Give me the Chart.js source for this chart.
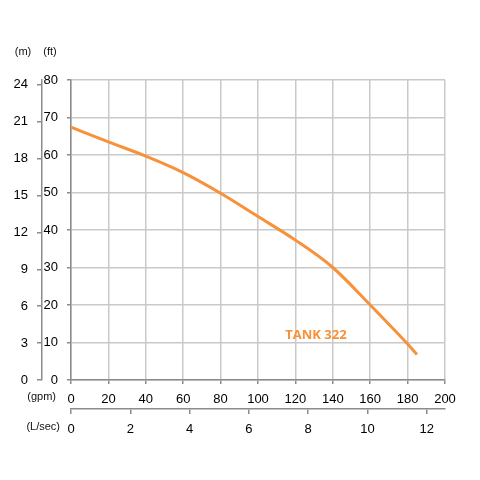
<!DOCTYPE html>
<html>
<head>
<meta charset="utf-8">
<script src="https://cdn.jsdelivr.net/npm/chart.js@4/dist/chart.umd.min.js"></script>
<style>
  html, body { margin: 0; padding: 0; background: #fff; }
</style>
</head>
<body>
<canvas id="pumpChart" width="480" height="480"></canvas>
<script>
// flow (gpm) and head (ft)
const flowGpm = [0, 20, 40, 60, 80, 100, 120, 140, 160, 180, 185]
const headFt = [67.4, 63.5, 59.7, 55.3, 49.8, 43.6, 37.3, 30.0, 20.0, 9.6, 6.8]
const seriesName = 'TANK 322'

// secondary axis tick labels
const meterTicks = [0, 3, 6, 9, 12, 15, 18, 21, 24]
const litreTicks = [0, 2, 4, 6, 8, 10, 12]

const gpmMax = 200
const ftMax = 80
const gpmPerLs = 15.85
const ftPerM = 3.2808

const orange = '#f7913a'
const gridGray = '#c9c9c9'
const axisGray = '#8c8c8c'
const tickFont = { family: 'Liberation Sans', size: 13 }

// unit captions + curve name
const extraText = {
  id: 'extraText',
  afterDraw(c) {
    const ctx = c.ctx
    const x = c.scales.x, y = c.scales.y, m = c.scales.m, ls = c.scales.ls
    ctx.save()
    ctx.fillStyle = '#111'
    ctx.font = '11px Liberation Sans'
    ctx.textBaseline = 'middle'
    ctx.textAlign = 'center'
    ctx.fillText('(m)', m.left + 9, 52)
    ctx.fillText('(ft)', y.left + 8, 52)
    ctx.textAlign = 'right'
    ctx.fillText('(gpm)', m.right + 14, x.top + 17)
    ctx.fillText('(L/sec)', m.right + 18, ls.top + 18)
    ctx.fillStyle = orange
    ctx.font = 'bold 13px "Open Sans"'
    ctx.textAlign = 'center'
    ctx.fillText(seriesName, x.getPixelForValue(131), y.getPixelForValue(12))
    ctx.restore()
  }
}

let pumpChart = new Chart(document.getElementById('pumpChart').getContext('2d'), {
  type: 'line',
  data: {
    datasets: [{
      label: seriesName,
      data: flowGpm.map((g, i) => ({ x: g, y: headFt[i] })),
      borderColor: orange,
      borderWidth: 3,
      pointRadius: 0,
      cubicInterpolationMode: 'monotone',
      fill: false
    }]
  },
  options: {
    responsive: false,
    animation: false,
    devicePixelRatio: 1,
    layout: { padding: { left: 14, right: 35, top: 80, bottom: 41 } },
    plugins: { legend: { display: false }, tooltip: { enabled: false } },
    scales: {
      x: {
        type: 'linear', position: 'bottom', min: 0, max: gpmMax,
        afterFit(s) { s.height = 29 },
        ticks: { stepSize: 20, color: '#000', font: tickFont, padding: 8, maxRotation: 0 },
        grid: { color: gridGray, lineWidth: 1.5, tickLength: 4, tickColor: axisGray },
        border: { color: axisGray, width: 1.5 }
      },
      ls: {
        type: 'linear', position: 'bottom', min: 0, max: gpmMax / gpmPerLs,
        afterBuildTicks(s) { s.ticks = litreTicks.map(v => ({ value: v })) },
        afterFit(s) { s.height = 30 },
        ticks: { color: '#000', font: tickFont, padding: 8, maxRotation: 0, autoSkip: false },
        grid: { drawOnChartArea: false, tickLength: 5, tickColor: axisGray, lineWidth: 1.5 },
        border: { color: axisGray, width: 1.5 }
      },
      y: {
        type: 'linear', position: 'left', min: 0, max: ftMax,
        afterFit(s) { s.width = 29 },
        ticks: { stepSize: 10, color: '#000', font: tickFont, padding: 9 },
        grid: { color: gridGray, lineWidth: 1.5, tickLength: 4, tickColor: axisGray },
        border: { color: axisGray, width: 1.5 }
      },
      m: {
        type: 'linear', position: 'left', min: 0, max: ftMax / ftPerM,
        afterBuildTicks(s) { s.ticks = meterTicks.map(v => ({ value: v })) },
        afterFit(s) { s.width = 28 },
        ticks: { color: '#000', font: tickFont, padding: 9, autoSkip: false },
        grid: { drawOnChartArea: false, tickLength: 5, tickColor: axisGray, lineWidth: 1.5 },
        border: { color: axisGray, width: 1.5 }
      }
    }
  },
  plugins: [extraText]
})
</script>
</body>
</html>
